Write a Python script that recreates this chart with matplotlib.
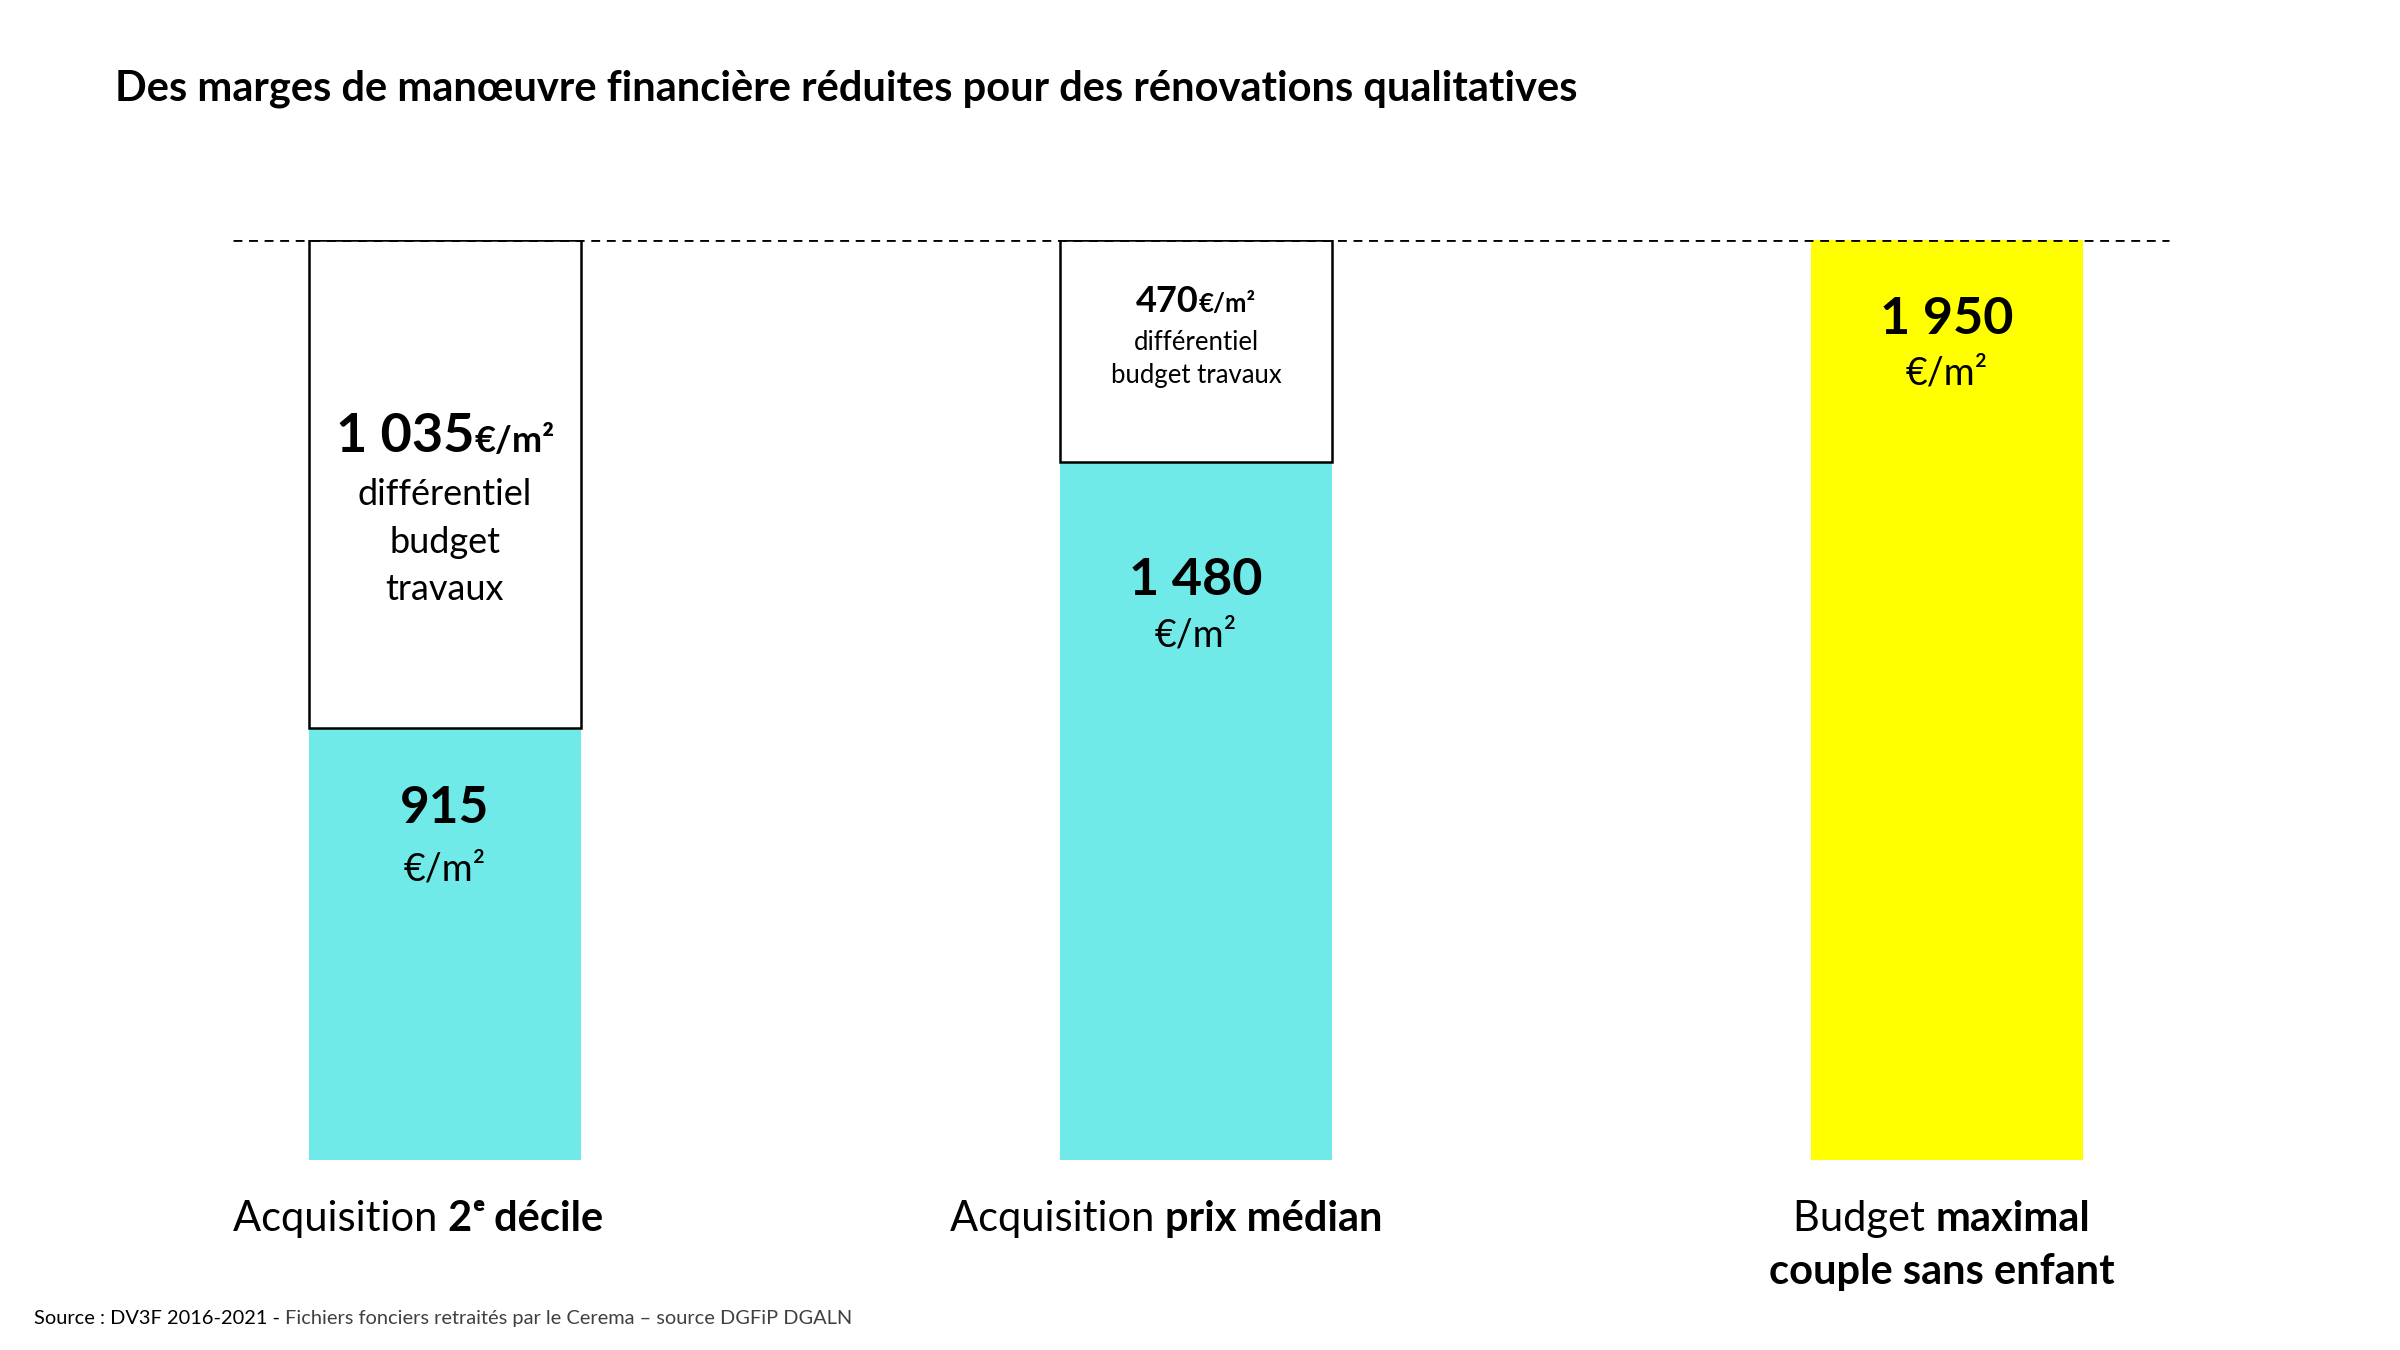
import matplotlib.pyplot as plt
from matplotlib.transforms import blended_transform_factory, offset_copy

plt.rcParams['font.family'] = ['Lato', 'DejaVu Sans']

# data
categories = ['Acquisition 2e décile', 'Acquisition prix médian', 'Budget maximal']
acquisition = [915, 1480, 0]
differentiel = [1035, 470, 0]
budget_max = [0, 0, 1950]
plafond = 1950

CYAN = '#70EAE8'
YELLOW = '#FFFF00'

fig = plt.figure(figsize=(24, 13.5), dpi=100)
# axes placed so that bar bottom sits at y=1160px and top (1950) at y=240px
ax = fig.add_axes([0, 190 / 1350, 1, 920 / 1350])
ax.set_xlim(-445 / 751, (2400 - 445) / 751)
ax.set_ylim(0, plafond)
ax.axis('off')

x = list(range(len(categories)))
w = 0.363
ax.bar(x[:2], acquisition[:2], width=w, color=CYAN, linewidth=0)
ax.bar(x[:2], differentiel[:2], width=w, bottom=acquisition[:2],
       color='white', edgecolor='black', linewidth=1.8)
ax.bar(x[2], budget_max[2], width=w, color=YELLOW, linewidth=0)
ax.hlines(plafond, -0.282, 2.296, colors='black', linewidth=2.0,
          linestyles=(0, (3.2, 2.4)))

renderer = fig.canvas.get_renderer()
mixed = blended_transform_factory(ax.transData, fig.transFigure)


def runs(xpos, ypx, parts, base=mixed, ha='center'):
    # parts: list of (text, size, weight, color)
    y = 1 - ypx / 1350
    texts = []
    for s, size, weight, color in parts:
        t = fig.text(xpos, y, s, fontsize=size, fontweight=weight, color=color,
                     ha='left', va='baseline', transform=base)
        texts.append(t)
    widths = [t.get_window_extent(renderer).width for t in texts]
    total = sum(widths)
    start = -total / 2 if ha == 'center' else 0
    cum = start
    for t, wd in zip(texts, widths):
        t.set_transform(offset_copy(base, fig=fig, x=cum, y=0, units='dots'))
        cum += wd


K = 'black'
# bar 1
runs(0, 452, [('1 035', 39, 'bold', K), ('€/m²', 26, 'bold', K)])
runs(0, 505, [('différentiel', 26, 'normal', K)])
runs(0, 553, [('budget', 26, 'normal', K)])
runs(0, 600, [('travaux', 26, 'normal', K)])
runs(0, 823, [('915', 37, 'bold', K)])
runs(0, 880, [('€/m²', 27, 'normal', K)])
# bar 2
runs(1, 312, [('470', 26, 'bold', K), ('€/m²', 18.5, 'bold', K)])
runs(1, 350, [('différentiel', 18.5, 'normal', K)])
runs(1, 383, [('budget travaux', 18.5, 'normal', K)])
runs(1, 595, [('1 480', 37.5, 'bold', K)])
runs(1, 646, [('€/m²', 27, 'normal', K)])
# bar 3
runs(2, 334, [('1 950', 37.5, 'bold', K)])
runs(2, 384, [('€/m²', 27, 'normal', K)])

# category labels
runs(-0.036, 1231, [('Acquisition ', 30, 'normal', K), ('2', 30, 'bold', K),
                    ('ᵉ', 30, 'bold', K), (' décile', 30, 'bold', K)])
runs(0.96, 1231, [('Acquisition ', 30, 'normal', K), ('prix médian', 30, 'bold', K)])
runs(1.993, 1231, [('Budget ', 30, 'normal', K), ('maximal', 30, 'bold', K)])
runs(1.993, 1284, [('couple sans enfant', 30, 'bold', K)])

# title and source
runs(115 / 2400, 101, [('Des marges de manœuvre financière réduites pour des rénovations qualitatives',
                        30, 'bold', K)], base=fig.transFigure, ha='left')
runs(34 / 2400, 1324, [('Source : DV3F 2016-2021 - ', 14.4, 'normal', K),
                       ('Fichiers fonciers retraités par le Cerema – source DGFiP DGALN', 14.4, 'normal', '#404040')],
     base=fig.transFigure, ha='left')

fig.savefig('out.png', dpi=100)
